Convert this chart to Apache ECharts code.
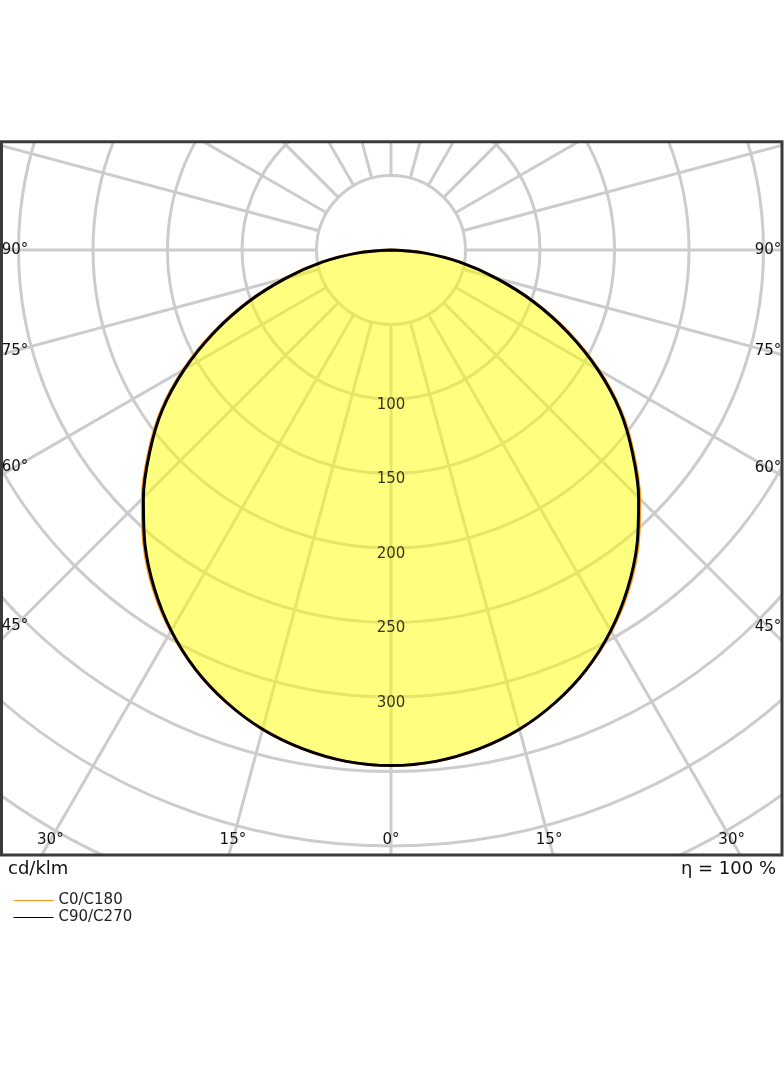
<!DOCTYPE html>
<html>
<head>
<meta charset="utf-8">
<script src="https://cdn.jsdelivr.net/npm/echarts@6/dist/echarts.min.js"></script>
<style>
  html, body { margin: 0; padding: 0; background: #fff; }
  #chart { width: 784px; height: 1066px; }
</style>
</head>
<body>
<div id="chart"></div>
<script>
// gamma angles (deg from nadir), intensities in cd/klm
const angles = [-90, -85, -80, -75, -70, -65, -60, -55, -50, -45, -40, -35, -30, -25, -20, -15, -10, -5,
  0, 5, 10, 15, 20, 25, 30, 35, 40, 45, 50, 55, 60, 65, 70, 75, 80, 85, 90];
const c0c180 = [0, 22, 47, 73, 102.5, 132, 161, 188.5, 212.5, 236, 258, 278, 295.5, 310.5, 323, 333, 340, 344.5,
  346, 344.5, 340, 333, 323, 310.5, 295.5, 278, 258, 236, 212.5, 188.5, 161, 132, 102.5, 73, 47, 22, 0];
const c90c270 = [0, 22, 47, 73, 102, 131, 160, 187.5, 211.5, 235, 257, 277, 295, 310.5, 323, 333, 340, 344.5,
  346, 344.5, 340, 333, 323, 310.5, 295, 277, 257, 235, 211.5, 187.5, 160, 131, 102, 73, 47, 22, 0];
const ringLabels = [100, 150, 200, 250, 300];
const angleLabels = [0, 15, 30, 45, 60, 75, 90];

const FONT = '"DejaVu Sans", sans-serif';
const gridLine = { color: '#cccccc', width: 3 };

const chart = echarts.init(document.getElementById('chart'));

// min (-180) sits at startAngle (up), so 0 points straight down
const option = {
  animation: false,
  polar: [
    { center: [391, 250], radius: [74.5, 745] },   // grid, rings start at 50
    { center: [391, 250], radius: [0, 745] }       // data
  ],
  angleAxis: [
    {
      polarIndex: 0, type: 'value', min: -180, max: 180, interval: 15,
      startAngle: 90, clockwise: true,
      axisLine: { show: false }, axisTick: { show: false }, axisLabel: { show: false },
      splitLine: { show: true, lineStyle: gridLine }
    },
    {
      polarIndex: 1, type: 'value', min: -180, max: 180, interval: 15,
      startAngle: 90, clockwise: true, show: false
    }
  ],
  radiusAxis: [
    {
      polarIndex: 0, type: 'value', min: 50, max: 500, interval: 50,
      axisLine: { show: false }, axisTick: { show: false }, axisLabel: { show: false },
      splitLine: { show: true, lineStyle: gridLine }
    },
    { polarIndex: 1, type: 'value', min: 0, max: 500, show: false }
  ],
  legend: {
    orient: 'vertical', left: 8, top: 888, itemWidth: 40, itemHeight: 14, itemGap: 2,
    z: 80,
    lineStyle: { width: 1 },
    itemStyle: { opacity: 0 },
    textStyle: { fontFamily: FONT, fontSize: 15, color: '#222' },
    data: ['C0/C180', 'C90/C270']
  },
  series: [
    {
      name: 'C0/C180', type: 'line', coordinateSystem: 'polar', polarIndex: 1,
      symbol: 'none', z: 3, smooth: 0.3,
      lineStyle: { color: '#ff9419', width: 3 },
      itemStyle: { color: '#ff9419' },
      areaStyle: { color: 'rgba(255,255,0,0.5)', opacity: 1 },
      data: angles.map((a, i) => [c0c180[i], a])
    },
    {
      name: 'C90/C270', type: 'line', coordinateSystem: 'polar', polarIndex: 1,
      symbol: 'none', z: 4, smooth: 0.3,
      lineStyle: { color: '#000000', width: 3 },
      itemStyle: { color: '#333333' },
      data: angles.map((a, i) => [c90c270[i], a])
    },
    {
      name: 'rings', type: 'scatter', coordinateSystem: 'polar', polarIndex: 1,
      symbolSize: 1, z: 5, silent: true,
      itemStyle: { color: 'rgba(0,0,0,0)' },
      label: {
        show: true, position: 'inside', offset: [0, 6],
        fontFamily: FONT, fontSize: 15, color: '#000',
        formatter: p => String(p.value[0])
      },
      data: ringLabels.map(v => [v, 0])
    }
  ]
};
chart.setOption(option);

// angle labels sit where each ray meets the inner edge of the frame
const frame = { left: 15, right: 768, bottom: 840 };
const c = chart.convertToPixel({ polarIndex: 1 }, [0, 0]);
const labels = [];
angleLabels.forEach(a => {
  [a, -a].forEach((ang, k) => {
    if (a === 0 && k === 1) return;
    const p = chart.convertToPixel({ polarIndex: 1 }, [100, ang]);
    const dx = p[0] - c[0], dy = p[1] - c[1];
    let t = Infinity;
    if (dx < -1e-6) t = Math.min(t, (frame.left - c[0]) / dx);
    if (dx > 1e-6) t = Math.min(t, (frame.right - c[0]) / dx);
    if (dy > 1e-6) t = Math.min(t, (frame.bottom - c[1]) / dy);
    labels.push({
      type: 'text', z: 70, x: c[0] + dx * t, y: c[1] + dy * t,
      style: {
        text: a + '°', font: '15px ' + FONT, fill: '#111',
        align: 'center', verticalAlign: 'middle',
        textAlign: 'center', textVerticalAlign: 'middle'
      }
    });
  });
});

const mask = { fill: '#ffffff' };
chart.setOption({
  graphic: [
    { type: 'rect', z: 50, shape: { x: 0, y: 0, width: 784, height: 142 }, style: mask },
    { type: 'rect', z: 50, shape: { x: 0, y: 855, width: 784, height: 211 }, style: mask },
    { type: 'rect', z: 50, shape: { x: 0, y: 0, width: 1.5, height: 1066 }, style: mask },
    { type: 'rect', z: 50, shape: { x: 782, y: 0, width: 2, height: 1066 }, style: mask },
    {
      type: 'rect', z: 60,
      shape: { x: 1.5, y: 141.8, width: 780.5, height: 713.2 },
      style: { fill: 'none', stroke: '#3a3a3a', lineWidth: 3 }
    },
    {
      type: 'text', z: 70, x: 8, y: 869,
      style: { text: 'cd/klm', font: '18px ' + FONT, fill: '#111',
        align: 'left', verticalAlign: 'middle', textAlign: 'left', textVerticalAlign: 'middle' }
    },
    {
      type: 'text', z: 70, x: 776, y: 869,
      style: { text: 'η = 100 %', font: '18px ' + FONT, fill: '#111',
        align: 'right', verticalAlign: 'middle', textAlign: 'right', textVerticalAlign: 'middle' }
    }
  ].concat(labels)
});
</script>
</body>
</html>
